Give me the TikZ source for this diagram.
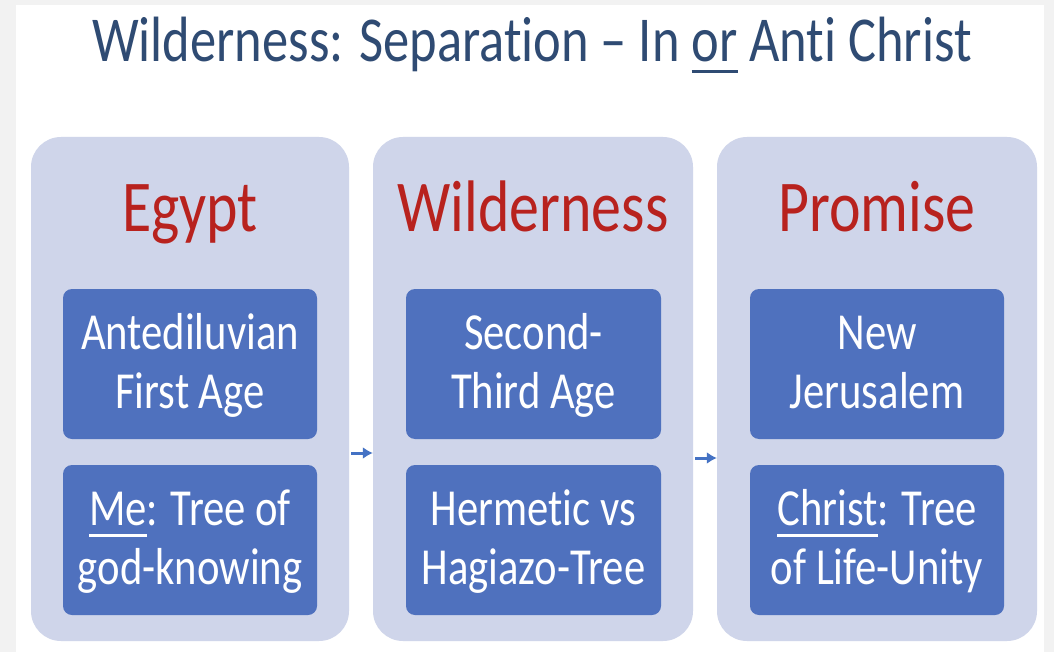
\documentclass[tikz,border=0pt]{standalone}
\usepackage{fontspec}
\setmainfont{Carlito}[FakeStretch=0.82, Ligatures={NoCommon}]
\usetikzlibrary{arrows.meta,calc}
\definecolor{bggray}{RGB}{242,242,242}
\definecolor{panelfill}{RGB}{207,213,234}
\definecolor{boxfill}{RGB}{79,113,190}
\definecolor{titleblue}{RGB}{47,75,115}
\definecolor{headred}{RGB}{184,34,30}
\definecolor{arrowblue}{RGB}{68,114,196}
\newsavebox\ulbox
\newcommand\myul[2]{\sbox\ulbox{#2}\rlap{\rule[#1]{\wd\ulbox}{3pt}}\usebox\ulbox}
\newcommand\lst{\rule[-15pt]{0pt}{59pt}}
\begin{document}
\begin{tikzpicture}[x=1pt,y=-1pt,
  panel/.style={fill=panelfill, rounded corners=30pt, minimum height=504pt, inner sep=0pt},
  ibox/.style={fill=boxfill, rounded corners=9pt, minimum width=255pt, minimum height=150pt, inner sep=0pt},
  itext/.style={text=white, align=center, font=\fontsize{52}{59}\selectfont, inner sep=0pt},
  head/.style={text=headred, font=\fontsize{73}{80}\selectfont, anchor=base, inner sep=0pt},
  arr/.style={draw=arrowblue, line width=3pt, shorten <=2pt, -{Latex[length=10pt,width=12pt]}}]
\fill[bggray] (0,0) rectangle (1054,652);
\fill[white] (16,5) rectangle (1044,652);
\useasboundingbox (0,0) rectangle (1054,652);
\node[anchor=base, text=titleblue, font=\fontsize{64}{70}\selectfont, inner sep=0pt] (title) at (532,62)
  {Wilderness: Separat\kern0pt ion – In \myul{-11.5pt}{or} Ant\kern0pt i Christ};
% panels
\node[panel, minimum width=318pt] (p1) at (190,389) {};
\node[panel, minimum width=320pt] (p2) at (533,389) {};
\node[panel, minimum width=320pt] (p3) at (877,389) {};
% headings
\node[head] (h1) at (190,232) {Egypt};
\node[head] (h2) at (533,232) {Wilderness};
\node[head] (h3) at (877,232) {Promise};
% inner boxes
\node[ibox, minimum width=254pt] (b1u) at (190,364) {};
\node[ibox, minimum width=254pt] (b1l) at (190,540) {};
\node[ibox] (b2u) at (533.5,364) {};
\node[ibox] (b2l) at (533.5,540) {};
\node[ibox, minimum width=254pt] (b3u) at (877,364) {};
\node[ibox, minimum width=254pt] (b3l) at (877,540) {};
% texts
\node[itext] (t1u) at (b1u.center) {\lst Antediluvian\\\lst First Age};
\node[itext] (t1l) at (b1l.center) {\lst\myul{-12pt}{Me}: Tree of\\\lst god-knowing};
\node[itext] (t2u) at (b2u.center) {\lst Second-\\\lst Third Age};
\node[itext] (t2l) at (b2l.center) {\lst Hermetic vs\\\lst Hagiazo-Tree};
\node[itext] (t3u) at (b3u.center) {\lst New\\\lst Jerusalem};
\node[itext] (t3l) at (b3l.center) {\lst\myul{-12pt}{Christ}: Tree\\\lst of Life-Unity};
% arrows
\draw[arr] ([yshift=-64pt]p1.east) -- ([yshift=-64pt]p2.west);
\draw[arr] ([yshift=-69pt]p2.east) -- ([yshift=-69pt]p3.west);
\end{tikzpicture}
\end{document}
